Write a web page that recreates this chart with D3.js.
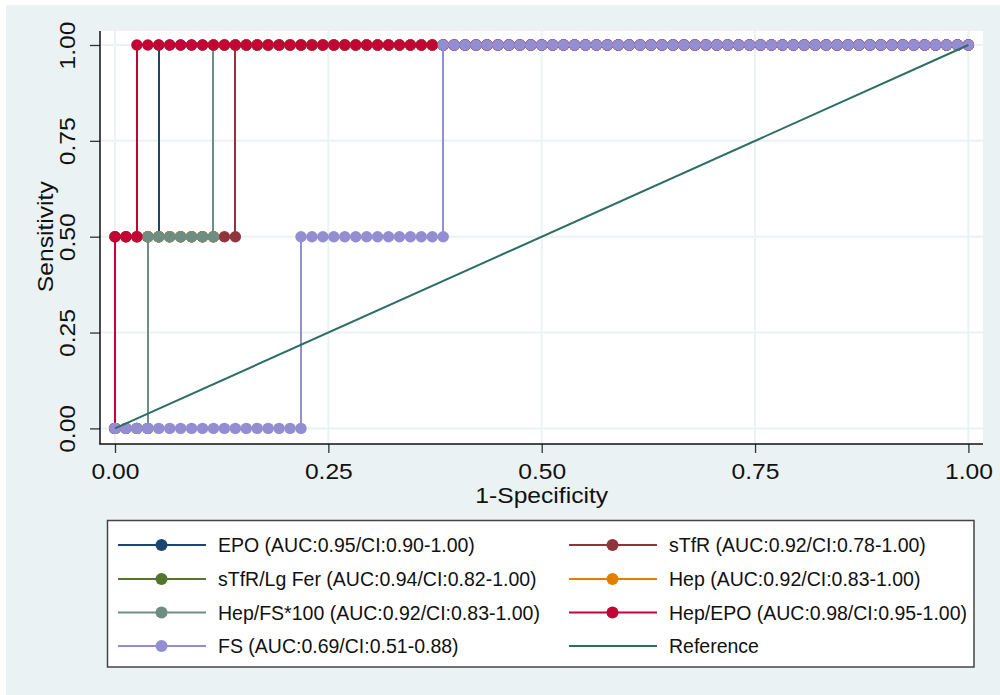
<!DOCTYPE html>
<html>
<head>
<meta charset="utf-8">
<script src="https://cdn.jsdelivr.net/npm/d3@7"></script>
<style>
  html, body { margin: 0; padding: 0; background: #ffffff; }
  svg { display: block; font-family: "Liberation Sans", Arial, sans-serif; }
</style>
</head>
<body>
<svg id="chart" width="1000" height="695"></svg>
<script>
// ---------------- DATA ----------------
// Number of false positives (controls) at each ROC point; 1-Specificity = count / nControls
const nControls = 78;
const fpCounts = [
  0,1,2,3,4,5,6,7,8,9,
  10,11,12,13,14,15,16,17,18,19,
  20,21,22,23,24,25,26,27,28,29,
  30,31,32,33,34,35,36,37,38,39,
  40,41,42,43,44,45,46,47,48,49,
  50,51,52,53,54,55,56,57,58,59,
  60,61,62,63,64,65,66,67,68,69,
  70,71,72,73,74,75,76,77,78
];

// Sensitivity at each fp count (value after any jump at that count)
const sensEPO = [
  0,0,0,0.5,1,1,1,1,1,1,
  1,1,1,1,1,1,1,1,1,1,
  1,1,1,1,1,1,1,1,1,1,
  1,1,1,1,1,1,1,1,1,1,
  1,1,1,1,1,1,1,1,1,1,
  1,1,1,1,1,1,1,1,1,1,
  1,1,1,1,1,1,1,1,1,1,
  1,1,1,1,1,1,1,1,1
];
const sensSTfR = [
  0.5,0.5,0.5,0.5,0.5,0.5,0.5,0.5,0.5,0.5,
  0.5,1,1,1,1,1,1,1,1,1,
  1,1,1,1,1,1,1,1,1,1,
  1,1,1,1,1,1,1,1,1,1,
  1,1,1,1,1,1,1,1,1,1,
  1,1,1,1,1,1,1,1,1,1,
  1,1,1,1,1,1,1,1,1,1,
  1,1,1,1,1,1,1,1,1
];
const sensSTfRLgFer = [
  0.5,0.5,0.5,0.5,0.5,0.5,0.5,0.5,0.5,1,
  1,1,1,1,1,1,1,1,1,1,
  1,1,1,1,1,1,1,1,1,1,
  1,1,1,1,1,1,1,1,1,1,
  1,1,1,1,1,1,1,1,1,1,
  1,1,1,1,1,1,1,1,1,1,
  1,1,1,1,1,1,1,1,1,1,
  1,1,1,1,1,1,1,1,1
];
const sensHep = [
  0,0,0,0.5,0.5,0.5,0.5,0.5,0.5,1,
  1,1,1,1,1,1,1,1,1,1,
  1,1,1,1,1,1,1,1,1,1,
  1,1,1,1,1,1,1,1,1,1,
  1,1,1,1,1,1,1,1,1,1,
  1,1,1,1,1,1,1,1,1,1,
  1,1,1,1,1,1,1,1,1,1,
  1,1,1,1,1,1,1,1,1
];
const sensHepFS100 = [
  0,0,0,0.5,0.5,0.5,0.5,0.5,0.5,1,
  1,1,1,1,1,1,1,1,1,1,
  1,1,1,1,1,1,1,1,1,1,
  1,1,1,1,1,1,1,1,1,1,
  1,1,1,1,1,1,1,1,1,1,
  1,1,1,1,1,1,1,1,1,1,
  1,1,1,1,1,1,1,1,1,1,
  1,1,1,1,1,1,1,1,1
];
const sensHepEPO = [
  0.5,0.5,1,1,1,1,1,1,1,1,
  1,1,1,1,1,1,1,1,1,1,
  1,1,1,1,1,1,1,1,1,1,
  1,1,1,1,1,1,1,1,1,1,
  1,1,1,1,1,1,1,1,1,1,
  1,1,1,1,1,1,1,1,1,1,
  1,1,1,1,1,1,1,1,1,1,
  1,1,1,1,1,1,1,1,1
];
const sensFS = [
  0,0,0,0,0,0,0,0,0,0,
  0,0,0,0,0,0,0,0.5,0.5,0.5,
  0.5,0.5,0.5,0.5,0.5,0.5,0.5,0.5,0.5,0.5,
  1,1,1,1,1,1,1,1,1,1,
  1,1,1,1,1,1,1,1,1,1,
  1,1,1,1,1,1,1,1,1,1,
  1,1,1,1,1,1,1,1,1,1,
  1,1,1,1,1,1,1,1,1
];

const seriesNames = [
  "EPO", "sTfR", "sTfR/Lg Fer", "Hep", "Hep/FS*100", "Hep/EPO", "FS"
];
const seriesSens = [sensEPO, sensSTfR, sensSTfRLgFer, sensHep, sensHepFS100, sensHepEPO, sensFS];
const seriesColors = ["#1a476f", "#90353b", "#55752f", "#e37e00", "#6e8e84", "#c10534", "#938dd2"];
const referenceColor = "#2c6e63";
const referenceLine = [[0, 0], [1, 1]];

const legendLabels = [
  "EPO (AUC:0.95/CI:0.90-1.00)",
  "sTfR (AUC:0.92/CI:0.78-1.00)",
  "sTfR/Lg Fer (AUC:0.94/CI:0.82-1.00)",
  "Hep (AUC:0.92/CI:0.83-1.00)",
  "Hep/FS*100 (AUC:0.92/CI:0.83-1.00)",
  "Hep/EPO (AUC:0.98/CI:0.95-1.00)",
  "FS (AUC:0.69/CI:0.51-0.88)",
  "Reference"
];

const tickValues = [0, 0.25, 0.5, 0.75, 1];
const xTitle = "1-Specificity";
const yTitle = "Sensitivity";

// ---------------- DRAWING ----------------
const svg = d3.select("#chart");
const bg = "#eaf2f3";

svg.append("rect").attr("x", 0).attr("y", 0).attr("width", 1000).attr("height", 695).attr("fill", "#ffffff");
svg.append("rect").attr("x", 6).attr("y", 5).attr("width", 994).attr("height", 690).attr("fill", bg);

const plot = { left: 100, right: 983, top: 31, bottom: 444 };
svg.append("rect")
  .attr("x", plot.left).attr("y", plot.top)
  .attr("width", plot.right - plot.left).attr("height", plot.bottom - plot.top)
  .attr("fill", "#ffffff");

const x = d3.scaleLinear().domain([0, 1]).range([115, 968.4]);
const y = d3.scaleLinear().domain([0, 1]).range([428.4, 45]);

// gridlines
const grid = svg.append("g");
grid.selectAll("line.gx").data(tickValues).join("line")
  .attr("x1", d => x(d)).attr("x2", d => x(d))
  .attr("y1", plot.top).attr("y2", plot.bottom)
  .attr("stroke", bg).attr("stroke-width", 2);
grid.selectAll("line.gy").data(tickValues).join("line")
  .attr("y1", d => y(d)).attr("y2", d => y(d))
  .attr("x1", plot.left).attr("x2", plot.right)
  .attr("stroke", bg).attr("stroke-width", 2);

// axes
const fmt = d3.format(".2f");
const xAxis = svg.append("g").attr("transform", `translate(0,${plot.bottom})`)
  .call(d3.axisBottom(x).tickValues(tickValues).tickFormat(fmt).tickSize(9));
xAxis.select(".domain").remove();
xAxis.selectAll(".tick line").attr("stroke", "#333").attr("stroke-width", 1.3);
xAxis.selectAll(".tick text")
  .attr("y", 35).attr("dy", null)
  .attr("fill", "#111")
  .style("font-size", "22px")
  .style("font-family", "'Liberation Sans', Arial, sans-serif")
  .attr("transform", "scale(1.12,1)");

const yAxis = svg.append("g").attr("transform", `translate(${plot.left},0)`)
  .call(d3.axisLeft(y).tickValues(tickValues).tickFormat(fmt).tickSize(10));
yAxis.select(".domain").remove();
yAxis.selectAll(".tick line").attr("stroke", "#333").attr("stroke-width", 1.3);
yAxis.selectAll(".tick text")
  .attr("x", 0).attr("y", -25).attr("dy", null)
  .attr("text-anchor", "middle")
  .attr("fill", "#111")
  .style("font-size", "22px")
  .style("font-family", "'Liberation Sans', Arial, sans-serif")
  .attr("transform", "rotate(-90) scale(1.12,1)");

// axis lines
svg.append("line").attr("x1", plot.left).attr("x2", plot.left).attr("y1", plot.top).attr("y2", plot.bottom + 0.5)
  .attr("stroke", "#111").attr("stroke-width", 1.5);
svg.append("line").attr("x1", plot.left - 0.5).attr("x2", plot.right).attr("y1", plot.bottom).attr("y2", plot.bottom)
  .attr("stroke", "#111").attr("stroke-width", 1.5);

// axis titles
svg.append("text")
  .attr("transform", `translate(${x(0.5)},503) scale(1.12,1)`)
  .attr("text-anchor", "middle").attr("fill", "#111")
  .style("font-size", "22px").text(xTitle);
svg.append("text")
  .attr("transform", `translate(53,${y(0.5)}) rotate(-90) scale(1.12,1)`)
  .attr("text-anchor", "middle").attr("fill", "#111")
  .style("font-size", "22px").text(yTitle);

// ROC curves
function rocPoints(sens) {
  const pts = [[0, 0]];
  fpCounts.forEach((c, i) => {
    const prev = i === 0 ? 0 : sens[i - 1];
    const fpr = c / nControls;
    if (sens[i] !== prev && i > 0) pts.push([fpr, prev]);
    pts.push([fpr, sens[i]]);
  });
  return pts;
}
const line = d3.line().x(d => x(d[0])).y(d => y(d[1]));

seriesSens.forEach((sens, si) => {
  const pts = rocPoints(sens);
  const g = svg.append("g");
  g.append("path").attr("d", line(pts))
    .attr("fill", "none").attr("stroke", seriesColors[si]).attr("stroke-width", 2)
    .attr("shape-rendering", "crispEdges");
  g.selectAll("circle").data(pts).join("circle")
    .attr("cx", d => x(d[0])).attr("cy", d => y(d[1])).attr("r", 5.7)
    .attr("fill", seriesColors[si]);
});

// reference line
svg.append("path").attr("d", line(referenceLine))
  .attr("fill", "none").attr("stroke", referenceColor).attr("stroke-width", 2);

// legend
const legend = svg.append("g");
legend.append("rect").attr("x", 107.5).attr("y", 520.5).attr("width", 866.5).attr("height", 146.5)
  .attr("fill", "#ffffff").attr("stroke", "#444").attr("stroke-width", 1.5);
const rowY = [545, 579, 612.5, 646];
const colX = [118, 569];
legendLabels.forEach((lab, i) => {
  const col = i % 2, row = Math.floor(i / 2);
  const lx = colX[col], ly = rowY[row];
  const color = i < seriesColors.length ? seriesColors[i] : referenceColor;
  legend.append("line").attr("x1", lx).attr("x2", lx + 88).attr("y1", ly).attr("y2", ly)
    .attr("stroke", color).attr("stroke-width", 2);
  if (i < seriesColors.length) {
    legend.append("circle").attr("cx", lx + 43.5).attr("cy", ly).attr("r", 6).attr("fill", color);
  }
  legend.append("text").attr("x", lx + 100).attr("y", ly + 7)
    .attr("fill", "#111").style("font-size", "19.5px").text(lab);
});
</script>
</body>
</html>
